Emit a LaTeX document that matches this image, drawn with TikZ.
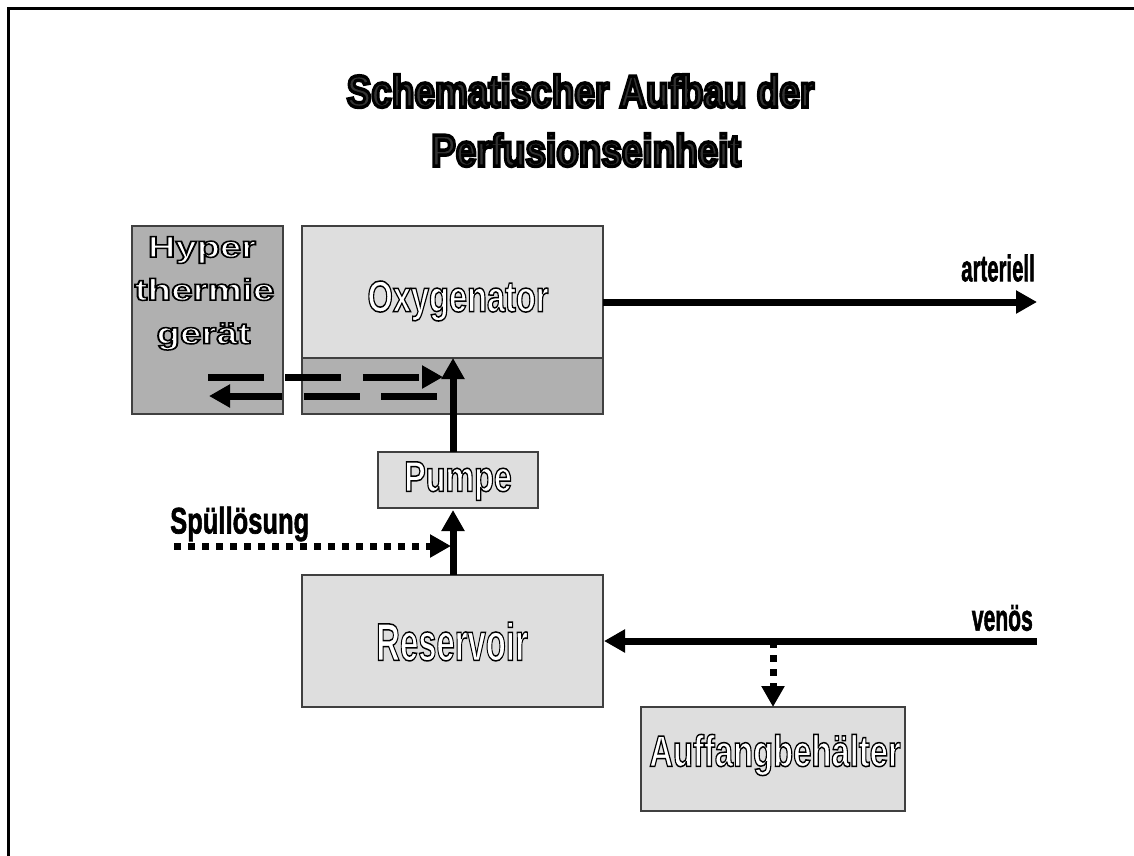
\documentclass[tikz,border=0pt]{standalone}
\usepackage{fontspec}
\setmainfont{Liberation Sans}
\usetikzlibrary{arrows.meta}
\newfontfamily\arialb{Liberation Sans Bold}
\definecolor{boxlight}{gray}{0.87}
\definecolor{boxdark}{gray}{0.69}
\definecolor{titlefill}{gray}{0.2}
% outlined lettering: white fill, black stroke
\newcommand{\outl}[3]{\scalebox{#2}[1]{\fontsize{#1}{#1}\arialb\color{white}\special{pdf:code 2 Tr 1.5 w 0 G}#3\special{pdf:code 0 Tr 1 w}}}
\newcommand{\titl}[1]{\scalebox{0.82}[1]{\fontsize{45pt}{45pt}\arialb\color{titlefill}\special{pdf:code 2 Tr 3.4 w 0 G}#1\special{pdf:code 0 Tr 1 w}}}
\newcommand{\heavy}[2]{\scalebox{#1}[1]{\special{pdf:code 2 Tr 0.7 w 0 G}#2\special{pdf:code 0 Tr 1 w}}}
\tikzset{
  x=1pt,y=-1pt,
  plainbox/.style={draw=black!75,line width=1.2pt,inner sep=0pt,outer sep=0pt,anchor=north west},
  lightbox/.style={plainbox,fill=boxlight},
  darkbox/.style={plainbox,fill=boxdark},
  flow/.style={line width=7pt,-{Triangle[length=21pt,width=22pt]}},
  longdash/.style={flow,dash pattern=on 56pt off 21.4pt},
  shortdash/.style={flow,dash pattern=on 7pt off 7pt},
  lbl/.style={inner sep=0pt,font=\fontsize{37pt}{37pt}\arialb},
}
\begin{document}
\begin{tikzpicture}
\useasboundingbox (0,0) rectangle (1134,855);
\fill[white] (0,0) rectangle (1134,855);
\draw[line width=3.3pt] (8.5,856) -- (8.5,8.5) -- (1135,8.5);
\node[inner sep=0pt] (t1) at (580.5,91) {\titl{Schematischer Aufbau der}};
\node[inner sep=0pt] (t2) at (586,150) {\titl{Perfusionseinheit}};
\node[darkbox,minimum width=151pt,minimum height=188pt] (hyper) at (132,226) {};
\node[darkbox,minimum width=301pt,minimum height=56pt] (oxylow) at (302,358) {};
\node[lightbox,minimum width=301pt,minimum height=132pt] (oxy) at (302,226) {};
\node[lightbox,minimum width=160pt,minimum height=56pt] (pump) at (378,452) {};
\node[lightbox,minimum width=301pt,minimum height=132pt] (res) at (302,575) {};
\node[lightbox,minimum width=264pt,minimum height=104pt] (auf) at (641,707) {};
\node[inner sep=0pt] (hy1) at (202,250) {\outl{30pt}{1.27}{Hyper}};
\node[inner sep=0pt] (hy2) at (204.5,289.5) {\outl{30pt}{1.29}{thermie}};
\node[inner sep=0pt] (hy3) at (203.5,336.5) {\outl{30pt}{1.28}{gerät}};
\node[inner sep=0pt] (oxt) at (458,301) {\outl{44pt}{0.74}{Oxygenator}};
\node[inner sep=0pt] (put) at (458,481) {\outl{43pt}{0.75}{Pumpe}};
\node[inner sep=0pt] (ret) at (452,641.5) {\outl{53pt}{0.62}{Reservoir}};
\node[inner sep=0pt] (aut) at (775,755) {\outl{44pt}{0.745}{Auffangbehälter}};
\node[lbl,anchor=east] (art) at (1035,268) {\heavy{0.55}{arteriell}};
\node[lbl,anchor=east] (ven) at (1033,618) {\heavy{0.57}{venös}};
\node[lbl,anchor=west] (spu) at (170,524) {\heavy{0.69}{Spüllösung}};
\coordinate (artend) at (1037,302);
\coordinate (venstart) at (1037,641);
\coordinate (ventip) at (604,641);
\coordinate (oxin) at (453,358);
\coordinate (pumpout) at (453,452);
\coordinate (resout) at (453,575);
\coordinate (pumpin) at (453,510);
\coordinate (spstart) at (174,546);
\coordinate (sptip) at (451,546);
\coordinate (vbranch) at (773,641);
\coordinate (auftip) at (773,707);
\coordinate (hotstart) at (208,377);
\coordinate (hottip) at (443,377);
\coordinate (retstart) at (437,396);
\coordinate (rettip) at (209,396);
\draw[flow] (603,302) -- (artend);
\draw[flow] (venstart) -- (ventip);
\draw[flow] (pumpout) -- (oxin);
\draw[flow] (resout) -- (pumpin);
\draw[shortdash] (spstart) -- (sptip);
\draw[shortdash] (vbranch) -- (auftip);
\draw[longdash] (hotstart) -- (hottip);
\draw[longdash] (retstart) -- (rettip);
\end{tikzpicture}
\end{document}
